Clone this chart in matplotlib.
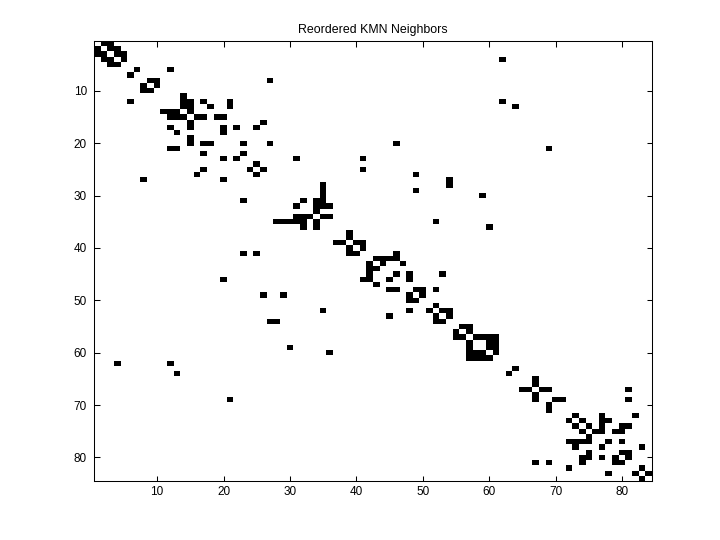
import numpy as np
from matplotlib import pyplot as plt

plt.rcParams['font.family'] = ['Liberation Sans', 'DejaVu Sans']

title = 'Reordered KMN Neighbors'
n_nodes = 84
ticks = [10, 20, 30, 40, 50, 60, 70, 80]

# neighbours of each node, upper triangle only (1-based as on the axes)
neighbors = {
    1: [2, 3], 2: [3, 4], 3: [4, 5], 4: [5, 62], 6: [7, 12],
    8: [9, 10, 27], 9: [10], 11: [14], 12: [14, 15, 17, 21, 62],
    13: [14, 15, 18, 21, 64], 14: [15], 15: [16, 17, 19, 20],
    16: [26], 17: [20, 22, 25], 18: [20], 20: [23, 27, 46],
    21: [69], 22: [23], 23: [31, 41], 24: [25], 25: [26, 41],
    26: [49], 27: [54], 28: [35, 54], 29: [35, 49], 30: [35, 59],
    31: [32, 34, 35], 32: [34, 35, 36], 33: [34], 34: [35, 36],
    35: [52], 36: [60], 37: [39], 38: [39], 39: [40, 41], 40: [41],
    41: [46], 42: [43, 44, 45, 46], 43: [44, 47], 45: [46, 48, 53],
    46: [48], 48: [49, 50, 52], 49: [50], 51: [52], 52: [53, 54],
    53: [54], 55: [56, 57], 56: [57], 57: [58, 59, 60, 61],
    58: [60, 61], 59: [60, 61], 60: [61], 63: [64], 65: [67],
    66: [67], 67: [68, 69, 81], 69: [70, 71, 81],
    72: [73, 77, 82], 73: [74, 77, 78], 74: [75, 77, 80, 81],
    75: [76, 77, 79, 80], 77: [78, 80], 78: [83], 79: [80, 81],
    80: [81], 82: [83], 83: [84],
}

mat = np.zeros((n_nodes, n_nodes))
for i, js in neighbors.items():
    for j in js:
        mat[i-1, j-1] = 1
        mat[j-1, i-1] = 1

fig = plt.figure(figsize=(7.2, 5.4), dpi=100)
ax = fig.add_axes([94/720, 59/540, 558/720, 440/540])
ax.imshow(mat, cmap='gray_r', vmin=0, vmax=1, aspect='auto',
          interpolation='nearest', extent=(0.5, n_nodes+0.5, n_nodes+0.5, 0.5))
ax.set_xticks(ticks)
ax.set_yticks(ticks)
ax.tick_params(direction='in', length=5.5*72/100, width=0.75, labelsize=8.5,
               top=True, right=True)
ax.tick_params(axis='x', pad=3.5)
ax.tick_params(axis='y', pad=5)
for s in ax.spines.values():
    s.set_linewidth(0.75)
ax.set_title(title, fontsize=8.9, pad=6)

fig.savefig('out.png', dpi=100)
